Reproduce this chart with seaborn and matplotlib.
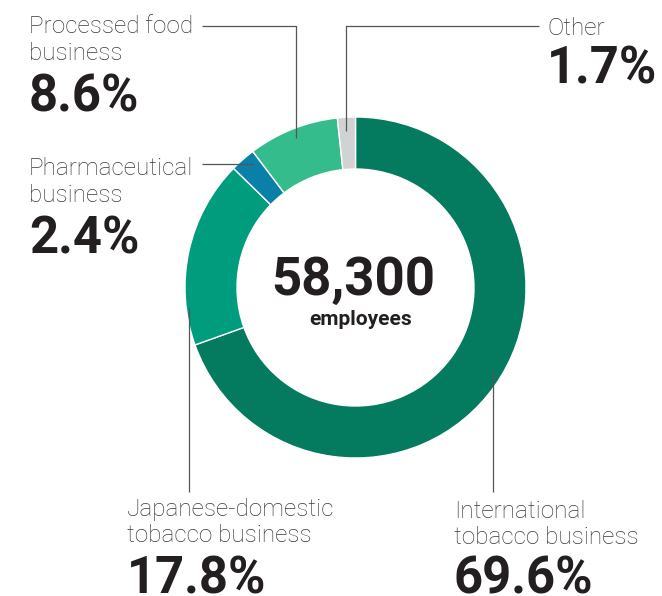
"""
Employees by business segment - donut chart.
"""

import matplotlib
matplotlib.use("Agg")
import matplotlib.pyplot as plt
import seaborn as sns

# Data
segments = [
    "International\ntobacco business",
    "Japanese-domestic\ntobacco business",
    "Pharmaceutical\nbusiness",
    "Processed food\nbusiness",
    "Other",
]
shares = [69.6, 17.8, 2.4, 8.6, 1.7]
total_employees = 58300
total_caption = "employees"

# Style
sns.set_theme(style="white")
plt.rcParams["font.family"] = ["Roboto", "DejaVu Sans"]
palette = sns.color_palette(["#047A5F", "#009C7E", "#0A7FA8", "#34BC8C", "#D1D2D4"])

W, H = 662, 596
fig = plt.figure(figsize=(W / 100, H / 100), dpi=100)
ax = fig.add_axes([0, 0, 1, 1])

# Donut (axis is in pixel coords with y pointing down, so counterclock=True
# draws clockwise on screen, starting at 12 o'clock)
center = (355.5, 287.5)
outer_r = 170.5
ring_w = 52
ax.pie(
    shares,
    colors=palette,
    center=center,
    radius=outer_r,
    startangle=-90,
    counterclock=True,
    wedgeprops=dict(width=ring_w, edgecolor="white", linewidth=1.0),
)
ax.set_xlim(0, W)
ax.set_ylim(H, 0)
ax.set_aspect("equal")
ax.axis("off")

# Leader lines
line_kw = dict(color="#555555", lw=0.9, solid_capstyle="butt", zorder=3)
leaders = {
    "International\ntobacco business": ([493, 493], [370, 492]),
    "Japanese-domestic\ntobacco business": ([189, 189], [308, 492]),
    "Pharmaceutical\nbusiness": ([202, 253], [164, 164]),
    "Processed food\nbusiness": ([202, 296, 296], [26, 26, 138]),
    "Other": ([539, 346, 346], [26, 26, 131]),
}
for name, (xs, ys) in leaders.items():
    ax.plot(xs, ys, **line_kw)

# Label layout: x, first-line baseline, percent baseline
label_pos = {
    "International\ntobacco business": (454, 518, 594),
    "Japanese-domestic\ntobacco business": (127, 516, 593),
    "Pharmaceutical\nbusiness": (29, 175, 253),
    "Processed food\nbusiness": (29, 33, 112),
    "Other": (547, 35, 83),
}
line_gap = 26.5
for name, share in zip(segments, shares):
    x, y0, yp = label_pos[name]
    for i, line in enumerate(name.split("\n")):
        ax.text(x, y0 + i * line_gap, line, fontsize=17.5, fontweight="light",
                color="#3a3a3a", ha="left", va="baseline")
    ax.text(x, yp, f"{share:.1f}%", fontsize=36.5, fontweight="bold",
            color="#231F20", ha="left", va="baseline")

# Center total
ax.text(353, 295, f"{total_employees:,}", fontsize=38, fontweight="bold",
        color="#231F20", ha="center", va="baseline")
ax.text(361, 325, total_caption, fontsize=15, fontweight="bold",
        color="#231F20", ha="center", va="baseline")

fig.savefig("out.png", dpi=100)
